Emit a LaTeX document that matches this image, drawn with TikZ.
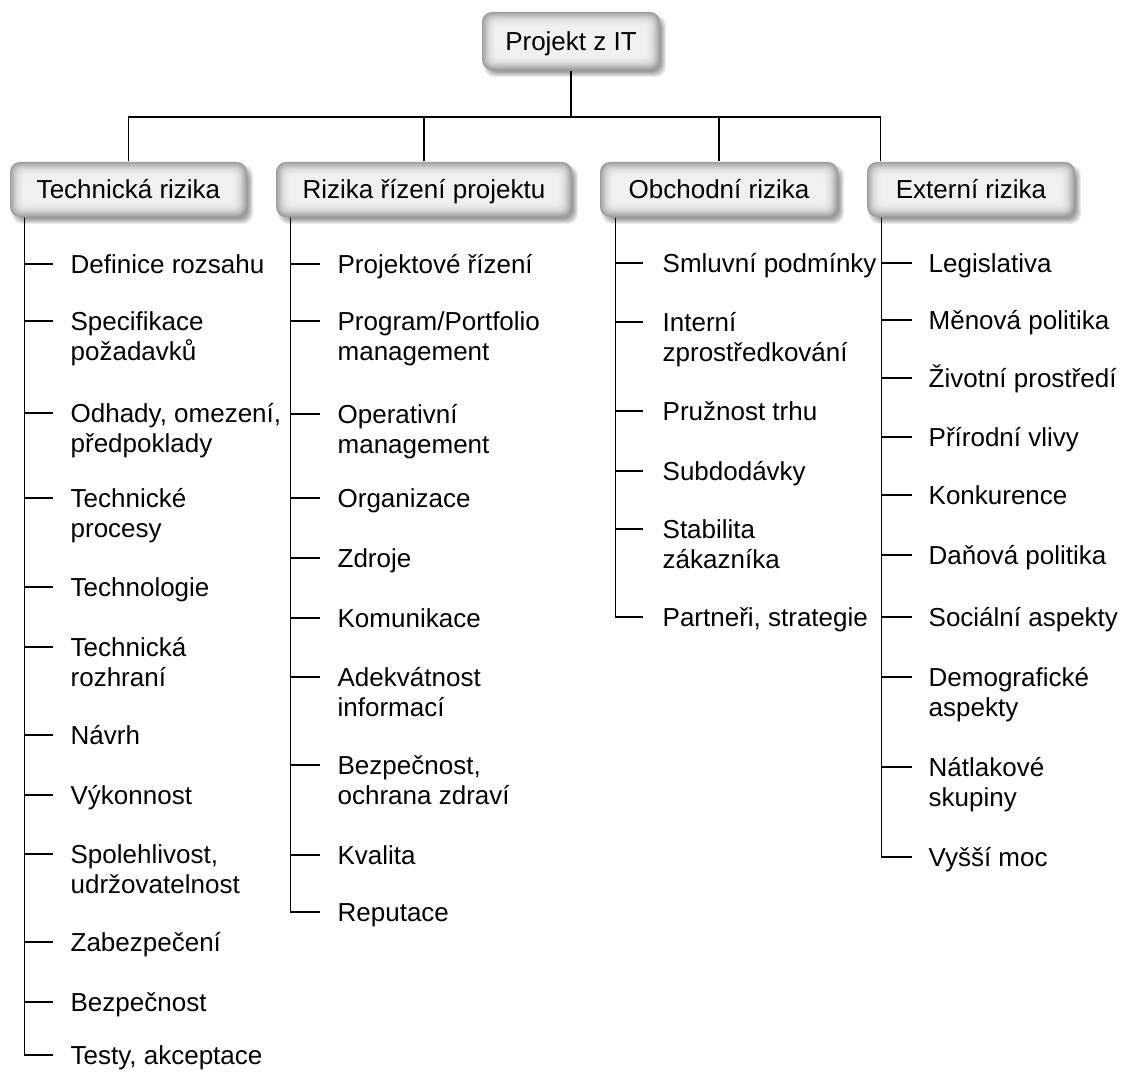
\documentclass[tikz,border=0pt]{standalone}
\usepackage{fontspec}
\setmainfont{Liberation Sans}
\usetikzlibrary{calc}
\newcommand{\twoline}[2]{\begin{tabular}[t]{@{}l@{}}#1\\#2\end{tabular}}
% shadow + inner-glow box, coordinates in px (x1,y1,x2,y2)
\newcommand{\glowbox}[4]{%
  \foreach \e in {-3,-2,-1,0,1,2}{%
    \fill[black,opacity=0.08,rounded corners=5pt]
      ({#1+4-(\e)},{#2+5-(\e)}) rectangle ({#3+4+(\e)},{#4+5+(\e)});
  }%
  \foreach \i/\c/\r in {0/78/5,1/66/4.7,2/56/4.4,3/47/4.1,4/39/3.8,5/32/3.5,6/27/3.2,7/23/2.9,8/19/2.6,9/16/2.3,10/14/2,11/13/1.7,12/12/1.4}{%
    \fill[gray!\c,rounded corners=\r pt]
      ({#1+\i*1.2},{#2+\i*1.2}) rectangle ({#3-\i*1.2},{#4-\i*1.2});
  }%
}
\begin{document}
\begin{tikzpicture}[x=0.5pt,y=-0.5pt,line width=0.65pt,
  item/.style={anchor=base west,inner sep=0pt,font=\fontsize{13}{15}\selectfont},
  head/.style={inner sep=0pt,text height=9.3pt,text depth=0pt,font=\fontsize{13}{15}\selectfont}]
\useasboundingbox (0,0) rectangle (1123,1075);

% boxes
\glowbox{482}{12}{660}{70}
\node[head,minimum width=89pt,minimum height=29pt] (top) at (571,41) {Projekt z IT};
\glowbox{10}{162}{247}{217}
\node[head,minimum width=118.5pt,minimum height=27.5pt] (b1) at (128.5,189.5) {Technická rizika};
\glowbox{276}{162}{572}{217}
\node[head,minimum width=148pt,minimum height=27.5pt] (b2) at (424,189.5) {Rizika řízení projektu};
\glowbox{600}{162}{838}{217}
\node[head,minimum width=119pt,minimum height=27.5pt] (b3) at (719,189.5) {Obchodní rizika};
\glowbox{867}{162}{1075}{217}
\node[head,minimum width=104pt,minimum height=27.5pt] (b4) at (971,189.5) {Externí rizika};

% top connectors
\coordinate (bus) at (571,117);
\draw (top.south) -- (bus);
\draw (b1.north) |- (bus);
\draw (b2.north) |- (bus);
\draw (b3.north) |- (bus);
\draw ($(b4.north west)+(14,0)$) |- (bus);

% trunk starts
\coordinate (t1) at ($(b1.south west)+(15,0)$);
\coordinate (t2) at ($(b2.south west)+(15,0)$);
\coordinate (t3) at ($(b3.south west)+(16,0)$);
\coordinate (t4) at ($(b4.south west)+(15,0)$);

% column 1
\foreach \n/\y/\txt in {1/264/{Definice rozsahu},
  2/321/{\twoline{Specifikace}{požadavků}},
  3/413/{\twoline{Odhady, omezení,}{předpoklady}},
  4/498/{\twoline{Technické}{procesy}},
  5/587/{Technologie},
  6/647/{\twoline{Technická}{rozhraní}},
  7/735/{Návrh},
  8/795/{Výkonnost},
  9/854/{\twoline{Spolehlivost,}{udržovatelnost}},
  10/942/{Zabezpečení},
  11/1002/{Bezpečnost},
  12/1055/{Testy, akceptace}}{
  \node[item] (a\n) at (70,\y+9.3) {\txt};
  \draw (t1) |- ($(a\n.base west)+(-17,-9.3)$);
}

% column 2
\foreach \n/\y/\txt in {1/264/{Projektové řízení},
  2/321/{\twoline{Program/Portfolio}{management}},
  3/414/{\twoline{Operativní}{management}},
  4/498/{Organizace},
  5/558/{Zdroje},
  6/618/{Komunikace},
  7/677/{\twoline{Adekvátnost}{informací}},
  8/765/{\twoline{Bezpečnost,}{ochrana zdraví}},
  9/855/{Kvalita},
  10/912/{Reputace}}{
  \node[item] (p\n) at (337,\y+9.3) {\txt};
  \draw (t2) |- ($(p\n.base west)+(-17,-9.3)$);
}

% column 3
\foreach \n/\y/\txt in {1/263/{Smluvní podmínky},
  2/322/{\twoline{Interní}{zprostředkování}},
  3/411/{Pružnost trhu},
  4/471/{Subdodávky},
  5/529/{\twoline{Stabilita}{zákazníka}},
  6/617/{Partneři, strategie}}{
  \node[item] (o\n) at (662,\y+9.3) {\txt};
  \draw (t3) |- ($(o\n.base west)+(-19,-9.3)$);
}

% column 4
\foreach \n/\y/\txt in {1/263/{Legislativa},
  2/320/{Měnová politika},
  3/378/{Životní prostředí},
  4/437/{Přírodní vlivy},
  5/495/{Konkurence},
  6/555/{Daňová politika},
  7/617/{Sociální aspekty},
  8/677/{\twoline{Demografické}{aspekty}},
  9/767/{\twoline{Nátlakové}{skupiny}},
  10/857/{Vyšší moc}}{
  \node[item] (e\n) at (928,\y+9.3) {\txt};
  \draw (t4) |- ($(e\n.base west)+(-16,-9.3)$);
}
\end{tikzpicture}
\end{document}
